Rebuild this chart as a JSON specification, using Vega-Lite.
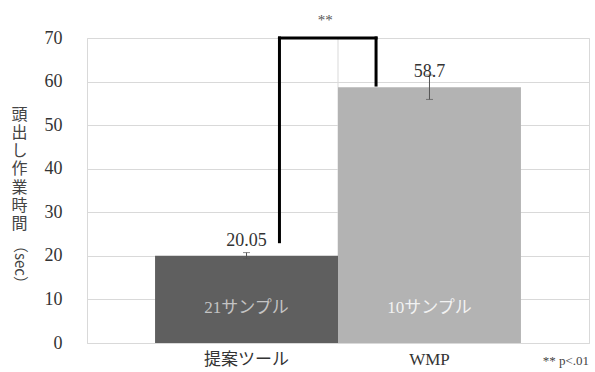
{
  "$schema": "https://vega.github.io/schema/vega-lite/v6.json",
  "width": 502,
  "height": 305,
  "autosize": {"type": "none"},
  "padding": {"left": 87, "top": 38, "right": 6, "bottom": 29},
  "background": "white",
  "config": {
    "view": {"stroke": "#d9d9d9", "strokeWidth": 1},
    "font": "'Liberation Serif', 'Noto Sans CJK JP', serif"
  },
  "datasets": {
    "bars": [
      {"cond": "提案ツール", "time": 20.05, "lo": 19.35, "hi": 20.75, "label": "21サンプル"},
      {"cond": "WMP", "time": 58.7, "lo": 55.9, "hi": 61.5, "label": "10サンプル"}
    ],
    "center": [{"cond": "WMP", "y0": 0, "y1": 70}],
    "bracket": [{"a": "提案ツール", "b": "WMP", "ylo": 23.25, "yhi": 59.2, "top": 70}]
  },
  "encoding": {
    "x": {
      "field": "cond",
      "type": "nominal",
      "scale": {"domain": ["提案ツール", "WMP"], "paddingInner": 0, "paddingOuter": 0.372},
      "axis": {
        "title": null,
        "ticks": false,
        "domainColor": "#d9d9d9",
        "labelFontSize": 17,
        "labelColor": "#333333",
        "labelPadding": 8,
        "labelAngle": 0,
        "labelFont": "'Liberation Serif', 'Noto Sans CJK JP', serif"
      }
    }
  },
  "layer": [
    {
      "data": {"name": "center"},
      "mark": {"type": "rule", "color": "#d9d9d9", "strokeWidth": 1},
      "encoding": {
        "x": {"field": "cond", "type": "nominal", "bandPosition": 0},
        "y": {
          "field": "y0",
          "type": "quantitative",
          "scale": {"domain": [0, 70], "nice": false},
          "axis": {
            "orient": "left",
            "title": "（sec）",
            "labels": false,
            "ticks": false,
            "domain": false,
            "grid": false,
            "titleAngle": 90,
            "titleX": -68,
            "titleY": 226,
            "titleAlign": "center",
            "titleBaseline": "middle",
            "titleFontSize": 15,
            "titleFontWeight": "normal",
            "titleColor": "#444444",
            "titleFont": "'Noto Sans CJK JP', sans-serif"
          }
        },
        "y2": {"field": "y1"}
      }
    },
    {
      "data": {"name": "bars"},
      "mark": {"type": "bar"},
      "encoding": {
        "y": {
          "field": "time",
          "type": "quantitative",
          "scale": {"domain": [0, 70], "nice": false},
          "axis": {
            "orient": "left",
            "values": [0, 10, 20, 30, 40, 50, 60, 70],
            "ticks": false,
            "domain": false,
            "grid": true,
            "gridColor": "#d9d9d9",
            "labelFontSize": 18,
            "labelColor": "#333333",
            "labelPadding": 25,
            "labelFont": "'Liberation Serif', serif",
            "title": ["頭", "出", "し", "作", "業", "時", "間"],
            "titleAngle": 0,
            "titleX": -68,
            "titleY": 68,
            "titleAlign": "center",
            "titleBaseline": "top",
            "titleFontSize": 16,
            "titleLineHeight": 18.3,
            "titleFontWeight": "normal",
            "titleColor": "#444444",
            "titleFont": "'Noto Sans CJK JP', sans-serif"
          }
        },
        "color": {
          "field": "cond",
          "type": "nominal",
          "scale": {"domain": ["提案ツール", "WMP"], "range": ["#5f5f5f", "#b3b3b3"]},
          "legend": null
        }
      }
    },
    {
      "data": {"name": "bars"},
      "mark": {"type": "rule", "color": "#555555", "strokeWidth": 1},
      "encoding": {
        "y": {"field": "lo", "type": "quantitative", "axis": null},
        "y2": {"field": "hi"}
      }
    },
    {
      "data": {"name": "bars"},
      "mark": {"type": "tick", "color": "#555555", "thickness": 1, "size": 7, "orient": "horizontal"},
      "encoding": {
        "y": {"field": "lo", "type": "quantitative", "axis": null}
      }
    },
    {
      "data": {"name": "bars"},
      "mark": {"type": "tick", "color": "#555555", "thickness": 1, "size": 7, "orient": "horizontal"},
      "encoding": {
        "y": {"field": "hi", "type": "quantitative", "axis": null}
      }
    },
    {
      "data": {"name": "bars"},
      "mark": {"type": "text", "fontSize": 18, "color": "#333333", "dy": -15, "baseline": "middle", "font": "'Liberation Serif', serif"},
      "encoding": {
        "y": {"field": "time", "type": "quantitative", "axis": null},
        "text": {"field": "time", "type": "quantitative"}
      }
    },
    {
      "data": {"name": "bars"},
      "mark": {"type": "text", "fontSize": 17, "baseline": "middle", "font": "'Liberation Serif', 'Noto Sans CJK JP', serif"},
      "encoding": {
        "y": {"datum": 8, "type": "quantitative", "axis": null},
        "text": {"field": "label"},
        "color": {
          "condition": {"test": "datum.cond === 'WMP'", "value": "#f2f2f2"},
          "value": "#c4c4c4"
        }
      }
    },
    {
      "data": {"name": "bracket"},
      "mark": {"type": "rule", "color": "#000000", "strokeWidth": 3, "strokeCap": "square"},
      "encoding": {
        "x": {"field": "a", "type": "nominal", "bandPosition": 0.68},
        "y": {"field": "ylo", "type": "quantitative", "axis": null},
        "y2": {"field": "top"}
      }
    },
    {
      "data": {"name": "bracket"},
      "mark": {"type": "rule", "color": "#000000", "strokeWidth": 3, "strokeCap": "square"},
      "encoding": {
        "x": {"field": "a", "type": "nominal", "bandPosition": 0.68},
        "x2": {"field": "b", "bandPosition": 0.208},
        "y": {"field": "top", "type": "quantitative", "axis": null}
      }
    },
    {
      "data": {"name": "bracket"},
      "mark": {"type": "rule", "color": "#000000", "strokeWidth": 3, "strokeCap": "square"},
      "encoding": {
        "x": {"field": "b", "type": "nominal", "bandPosition": 0.208},
        "y": {"field": "yhi", "type": "quantitative", "axis": null},
        "y2": {"field": "top"}
      }
    },
    {
      "data": {"name": "bracket"},
      "mark": {"type": "text", "fontSize": 15, "color": "#555555", "baseline": "middle", "font": "'Liberation Serif', serif"},
      "encoding": {
        "x": {"field": "a", "type": "nominal", "bandPosition": 0.93},
        "y": {"datum": 74.2, "type": "quantitative", "axis": null},
        "text": {"value": "**"}
      }
    },
    {
      "data": {"name": "bracket"},
      "mark": {"type": "text", "fontSize": 13, "color": "#444444", "baseline": "middle", "align": "right", "font": "'Liberation Serif', serif"},
      "encoding": {
        "x": {"field": "b", "type": "nominal", "bandPosition": 1.372},
        "y": {"datum": -4.2, "type": "quantitative", "axis": null},
        "text": {"value": "** p<.01"}
      }
    }
  ],
  "resolve": {"axis": {"y": "independent"}}
}
